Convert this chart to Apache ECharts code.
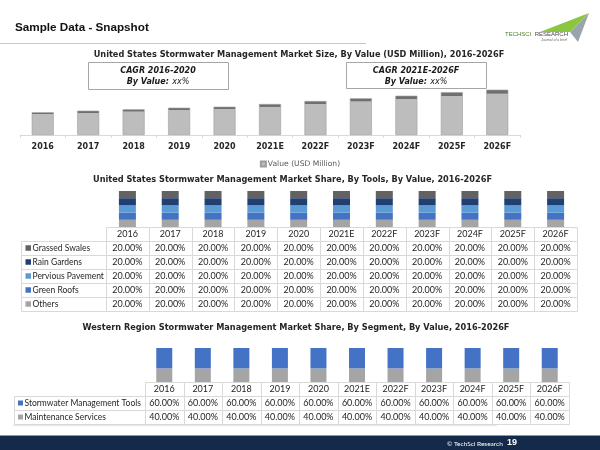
<!DOCTYPE html>
<html>
<head>
<meta charset="utf-8">
<script src="https://cdn.jsdelivr.net/npm/echarts@6/dist/echarts.min.js"></script>
<style>html,body{margin:0;padding:0;background:#fff}#c{width:600px;height:450px}</style>
</head>
<body>
<div id="c"></div>
<script>
// ---- data ----
const years = ['2016','2017','2018','2019','2020','2021E','2022F','2023F','2024F','2025F','2026F'];
const marketValue = [227, 243, 257, 273, 283, 310, 340, 367, 393, 427, 453];
const valueSeriesName = 'Value (USD Million)';

const toolNames = ['Grassed Swales','Rain Gardens','Pervious Pavement','Green Roofs','Others'];
const grassedSwales    = [20,20,20,20,20,20,20,20,20,20,20];
const rainGardens      = [20,20,20,20,20,20,20,20,20,20,20];
const perviousPavement = [20,20,20,20,20,20,20,20,20,20,20];
const greenRoofs       = [20,20,20,20,20,20,20,20,20,20,20];
const others           = [20,20,20,20,20,20,20,20,20,20,20];
const toolValues = [grassedSwales, rainGardens, perviousPavement, greenRoofs, others];

const segNames = ['Stormwater Management Tools','Maintenance Services'];
const stormwaterTools     = [60,60,60,60,60,60,60,60,60,60,60];
const maintenanceServices = [40,40,40,40,40,40,40,40,40,40,40];
const segValues = [stormwaterTools, maintenanceServices];

// ---- styles ----
const toolColors = ['#626262','#223f72','#5b9bd5','#4472c4','#a5a5a5'];
const segColors = ['#4472c4','#a5a5a5'];
const TF = 'DejaVu Sans';
const CF = 'Lato';
const GRID_C = '#d9d9d9';

function fmt(v){ return v.toFixed(2) + '%'; }

function valueCells(rowsValues){
  const data = [], texts = [];
  years.forEach((y, c) => { data.push([c, 0]); texts.push(y); });
  rowsValues.forEach((arr, r) => arr.forEach((v, c) => { data.push([c, r + 1]); texts.push(fmt(v)); }));
  return {data, texts};
}
function legendCells(names){
  return names.map((n, r) => [0, r + 1]);
}
function cellBox(api){
  const c = api.coord([api.value(0), api.value(1)]);
  const s = api.size([1, 1]);
  const x0 = Math.round(c[0] - s[0]/2) + 0.5, x1 = Math.round(c[0] + s[0]/2) + 0.5;
  const y0 = Math.round(c[1] - s[1]/2) + 0.5, y1 = Math.round(c[1] + s[1]/2) + 0.5;
  return {c, x0, x1, y0, y1};
}
function valueRenderer(texts, fs){
  return function(params, api){
    const b = cellBox(api);
    return {type:'group', children:[
      {type:'rect', shape:{x:b.x0, y:b.y0, width:b.x1-b.x0, height:b.y1-b.y0}, style:{fill:'#fff', stroke:GRID_C, lineWidth:1}},
      {type:'text', style:{x:b.c[0], y:b.c[1]+0.5, text:texts[params.dataIndex], fontSize:fs, fontFamily:CF, fill:'#1f1f1f', align:'center', verticalAlign:'middle'}}
    ]};
  };
}
function legendRenderer(names, colors, fs, sq, pad){
  return function(params, api){
    const b = cellBox(api);
    const i = params.dataIndex;
    return {type:'group', children:[
      {type:'rect', shape:{x:b.x0, y:b.y0, width:b.x1-b.x0, height:b.y1-b.y0}, style:{fill:'#fff', stroke:GRID_C, lineWidth:1}},
      {type:'rect', shape:{x:b.x0 + pad, y:b.c[1] - sq/2, width:sq, height:sq}, style:{fill:colors[i]}},
      {type:'text', style:{x:b.x0 + pad + sq + 1.5, y:b.c[1]+0.5, text:names[i], fontSize:fs, fontFamily:CF, fill:'#1f1f1f', align:'left', verticalAlign:'middle'}}
    ]};
  };
}

const t2 = valueCells(toolValues);
const t3 = valueCells(segValues);
const hdrRows2 = [''].concat(toolNames);
const hdrRows3 = [''].concat(segNames);

const grids = [
  {left:20, width:500, top:85, height:50},     // 0 market size bars
  {left:106, width:471, top:191, height:36},   // 1 tools stacked bars
  {left:21, width:85, top:227, height:84},     // 2 tools table legend col
  {left:106, width:471, top:227, height:84},   // 3 tools table values
  {left:145, width:424, top:348, height:34},   // 4 segment bars
  {left:14, width:131, top:382, height:42},    // 5 segment table legend col
  {left:145, width:424, top:382, height:42}    // 6 segment table values
];

const hidCat = (g, data) => ({type:'category', gridIndex:g, data:data, show:false});
const hidCatY = (g, data) => ({type:'category', gridIndex:g, data:data, show:false, inverse:true});

const xAxes = [
  {type:'category', gridIndex:0, data:years,
   axisLine:{lineStyle:{color:GRID_C}}, axisTick:{show:true, length:3, lineStyle:{color:GRID_C}},
   axisLabel:{fontFamily:TF, fontWeight:'bold', fontSize:8, color:'#262626', margin:8}},
  hidCat(1, years),
  hidCat(2, ['n']),
  hidCat(3, years),
  hidCat(4, years),
  hidCat(5, ['n']),
  hidCat(6, years)
];
const yAxes = [
  {type:'value', gridIndex:0, min:0, max:500, show:false},
  {type:'value', gridIndex:1, min:0, max:100, show:false},
  hidCatY(2, hdrRows2),
  hidCatY(3, hdrRows2),
  {type:'value', gridIndex:4, min:0, max:100, show:false},
  hidCatY(5, hdrRows3),
  hidCatY(6, hdrRows3)
];

const series = [];
series.push({
  name: valueSeriesName, type:'bar', xAxisIndex:0, yAxisIndex:0, data:marketValue, barWidth:22,
  itemStyle:{color:{type:'linear', x:0, y:0, x2:0, y2:1, colorStops:[
    {offset:0, color:'#6f6f6f'},{offset:0.08, color:'#6f6f6f'},{offset:0.09, color:'#bdbdbd'},{offset:1, color:'#bdbdbd'}]},
    borderColor:'#9d9d9d', borderWidth:0.6}
});
// stacked tools bars: bottom = last name
for (let i = toolNames.length - 1; i >= 0; i--) {
  series.push({name:toolNames[i], type:'bar', stack:'tools', xAxisIndex:1, yAxisIndex:1,
    data:toolValues[i], barWidth:17, itemStyle:{color:toolColors[i]}});
}
for (let i = segNames.length - 1; i >= 0; i--) {
  series.push({name:segNames[i], type:'bar', stack:'seg', xAxisIndex:4, yAxisIndex:4,
    data:segValues[i], barWidth:16, itemStyle:{color:segColors[i]}});
}
series.push({type:'custom', xAxisIndex:2, yAxisIndex:2, data:legendCells(toolNames),
  renderItem:legendRenderer(toolNames, toolColors, 8.5, 5.5, 4), silent:true});
series.push({type:'custom', xAxisIndex:3, yAxisIndex:3, data:t2.data,
  renderItem:valueRenderer(t2.texts, 9), silent:true});
series.push({type:'custom', xAxisIndex:5, yAxisIndex:5, data:legendCells(segNames),
  renderItem:legendRenderer(segNames, segColors, 8.5, 5, 3.5), silent:true});
series.push({type:'custom', xAxisIndex:6, yAxisIndex:6, data:t3.data,
  renderItem:valueRenderer(t3.texts, 9), silent:true});

const titleStyle = {fontFamily:TF, fontWeight:'bold', fontSize:8.2, fill:'#262626', align:'center', verticalAlign:'middle'};

const graphic = [
  // header
  {type:'text', left:15, top:22, style:{text:'Sample Data - Snapshot', font:'bold 11.7px "Liberation Sans", Arial', fill:'#111'}},
  {type:'line', shape:{x1:0, y1:43.5, x2:366, y2:43.5}, style:{stroke:'#c8c8c8', lineWidth:1}},
  // logo
  {type:'polygon', shape:{points:[[540,32],[589,13],[570,32]]}, style:{fill:'#8cc63f'}},
  {type:'polygon', shape:{points:[[570,32],[589,13],[578,42]]}, style:{fill:'#9aa4ad'}},
  {type:'text', x:505, y:34, style:{text:'{g|TECHSCI} {d|RESEARCH}', verticalAlign:'middle', rich:{g:{fontSize:6, fontFamily:'Liberation Sans', fill:'#4f7d2c'}, d:{fontSize:6, fontFamily:'Liberation Sans', fill:'#4a4a4a'}}}},
  {type:'text', x:541, y:40.5, style:{text:'Journal of a brief', fontSize:3.5, fontStyle:'italic', fontFamily:'Liberation Sans', fill:'#666', verticalAlign:'middle'}},
  // chart titles
  {type:'text', x:299, y:55, style:Object.assign({text:'United States Stormwater Management Market Size, By Value (USD Million), 2016-2026F'}, titleStyle)},
  {type:'text', x:292.5, y:180, style:Object.assign({text:'United States Stormwater Management Market Share, By Tools, By Value, 2016-2026F'}, titleStyle)},
  {type:'text', x:296, y:328, style:Object.assign({text:'Western Region Stormwater Management Market Share, By Segment, By Value, 2016-2026F'}, titleStyle)},
  // CAGR boxes
  {type:'rect', shape:{x:88.5, y:62.5, width:140, height:27}, style:{fill:'#fff', stroke:'#a6a6a6', lineWidth:1}},
  {type:'text', x:158, y:71, style:{text:'CAGR 2016-2020', font:'italic bold 8px "DejaVu Sans"', fill:'#1a1a1a', align:'center', verticalAlign:'middle'}},
  {type:'text', x:158, y:82, style:{text:'{b|By Value:} {n|xx%}', align:'center', verticalAlign:'middle',
    rich:{b:{fontFamily:TF, fontStyle:'italic', fontWeight:'bold', fontSize:8, fill:'#1a1a1a'}, n:{fontFamily:TF, fontStyle:'italic', fontSize:8, fill:'#1a1a1a'}}}},
  {type:'rect', shape:{x:346.5, y:62.5, width:140, height:26}, style:{fill:'#fff', stroke:'#a6a6a6', lineWidth:1}},
  {type:'text', x:416, y:71, style:{text:'CAGR 2021E-2026F', font:'italic bold 8px "DejaVu Sans"', fill:'#1a1a1a', align:'center', verticalAlign:'middle'}},
  {type:'text', x:416, y:81.5, style:{text:'{b|By Value:} {n|xx%}', align:'center', verticalAlign:'middle',
    rich:{b:{fontFamily:TF, fontStyle:'italic', fontWeight:'bold', fontSize:8, fill:'#1a1a1a'}, n:{fontFamily:TF, fontStyle:'italic', fontSize:8, fill:'#1a1a1a'}}}},
  // footer
  {type:'line', shape:{x1:13, y1:425.5, x2:497, y2:425.5}, style:{stroke:'#e6e6e6', lineWidth:1}},
  {type:'rect', shape:{x:0, y:435, width:600, height:1}, style:{fill:'#8a96a6'}},
  {type:'rect', shape:{x:0, y:436, width:600, height:14}, style:{fill:'#132a4a'}},
  {type:'text', x:447, y:443.5, style:{text:'© TechSci Research', fontSize:6.5, fontFamily:CF, fill:'#ffffff', verticalAlign:'middle'}},
  {type:'text', x:507, y:443, style:{text:'19', fontSize:9, fontWeight:'bold', fontFamily:'Liberation Sans', fill:'#ffffff', verticalAlign:'middle'}}
];

const chart = echarts.init(document.getElementById('c'), null, {renderer:'canvas'});
chart.setOption({
  animation:false,
  backgroundColor:'#ffffff',
  legend:{data:[valueSeriesName], left:'center', top:155, icon:'rect', itemWidth:5, itemHeight:5, itemGap:4,
    textStyle:{fontFamily:TF, fontSize:7.6, color:'#595959', padding:[0,0,0,-3]}},
  grid:grids, xAxis:xAxes, yAxis:yAxes, series:series, graphic:graphic
});
</script>
</body>
</html>
